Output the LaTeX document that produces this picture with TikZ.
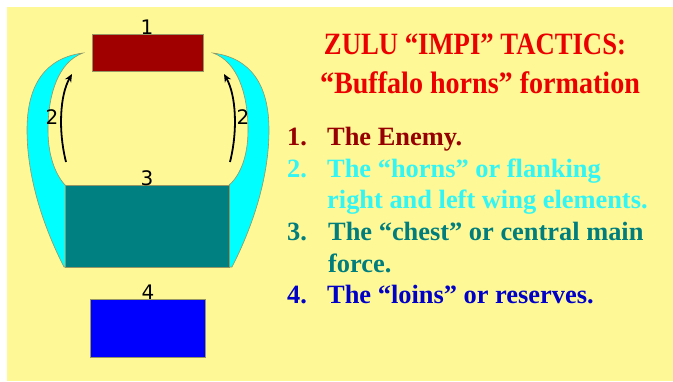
\documentclass[tikz,border=0pt]{standalone}
\usepackage{fontspec}
\setmainfont{Liberation Serif}
\newfontfamily\digitfont{DejaVu Sans}
\usetikzlibrary{arrows.meta}
\definecolor{bgyellow}{RGB}{254,249,150}
\definecolor{enemyred}{RGB}{160,0,0}
\definecolor{chestteal}{RGB}{0,128,128}
\definecolor{loinblue}{RGB}{0,0,255}
\definecolor{horncyan}{RGB}{0,255,255}
\definecolor{edgeolive}{RGB}{150,150,100}
\definecolor{titlered}{RGB}{235,0,0}
\definecolor{listred}{RGB}{150,0,0}
\definecolor{listcyan}{RGB}{50,245,245}
\definecolor{listteal}{RGB}{0,125,125}
\definecolor{listblue}{RGB}{0,0,200}
\begin{document}
\begin{tikzpicture}[x=1pt,y=-1pt,
  block/.style={draw=edgeolive, line width=0.6pt, inner sep=0pt, outer sep=0pt, anchor=north west},
  horn/.style={fill=horncyan, draw=edgeolive, line width=0.6pt},
  num/.style={font=\digitfont\fontsize{20}{22}\selectfont, inner sep=0pt},
  harrow/.style={line width=1.8pt, -{Stealth[length=8pt,width=7pt]}},
  ttl/.style={font=\fontsize{31}{34}\selectfont\bfseries, text=titlered, inner sep=0pt, anchor=base},
  item/.style={font=\fontsize{26.4}{31}\selectfont\bfseries, inner sep=0pt, anchor=base west}]
\useasboundingbox (0,0) rectangle (673,381);
\fill[bgyellow] (7,7) rectangle (673,381);
% horns
\filldraw[horn] (83,53) .. controls (45,58) and (27,85) .. (27,130)
  .. controls (27,180) and (45,230) .. (64,267) -- (66,267) -- (66,186)
  .. controls (58,178) and (48,160) .. (48,130)
  .. controls (48,95) and (58,62) .. (83,53) -- cycle;
\filldraw[horn] (213,53) .. controls (251,58) and (269,85) .. (269,130)
  .. controls (269,180) and (251,230) .. (232,267) -- (228,267) -- (228,186)
  .. controls (238,178) and (248,160) .. (248,130)
  .. controls (248,95) and (238,62) .. (213,53) -- cycle;
% blocks
\node[block, fill=enemyred, minimum width=111, minimum height=37] (enemy) at (92,34) {};
\node[block, fill=chestteal, minimum width=164, minimum height=82] (chest) at (65,185) {};
\node[block, fill=loinblue, minimum width=115, minimum height=58] (loins) at (90,299) {};
% labels
\node[num] (n1) at (147,27) {1};
\node[num] (n3) at (147,178) {3};
\node[num] (n4) at (148,292) {4};
\node[num] (n2l) at (52,117) {2};
\node[num] (n2r) at (243,117) {2};
% arrows
\coordinate (al0) at (66,162);
\coordinate (al1) at (72,74);
\coordinate (ar0) at (230,162);
\coordinate (ar1) at (224,74);
\draw[harrow] (al0) .. controls (58,130) and (60,95) .. (al1);
\draw[harrow] (ar0) .. controls (238,130) and (236,95) .. (ar1);
% title
\node[ttl] (t1) at (475,54) {\scalebox{0.861}[1]{ZULU “IMPI” TACTICS:}};
\node[ttl] (t2) at (480,93) {\scalebox{0.906}[1]{“Buffalo horns” formation}};
% list
\node[item, text=listred] (i1n) at (287,145) {1.};
\node[item, text=listred] (i1) at (327,145) {The Enemy.};
\node[item, text=listcyan] (i2n) at (287,177) {2.};
\node[item, text=listcyan] (i2a) at (327,177) {The “horns” or flanking};
\node[item, text=listcyan] (i2b) at (327,208) {right and left wing elements.};
\node[item, text=listteal] (i3n) at (287,240) {3.};
\node[item, text=listteal] (i3a) at (328,240) {The “chest” or central main};
\node[item, text=listteal] (i3b) at (328,272) {force.};
\node[item, text=listblue] (i4n) at (287,303) {4.};
\node[item, text=listblue] (i4) at (327,303) {The “loins” or reserves.};
\end{tikzpicture}
\end{document}
